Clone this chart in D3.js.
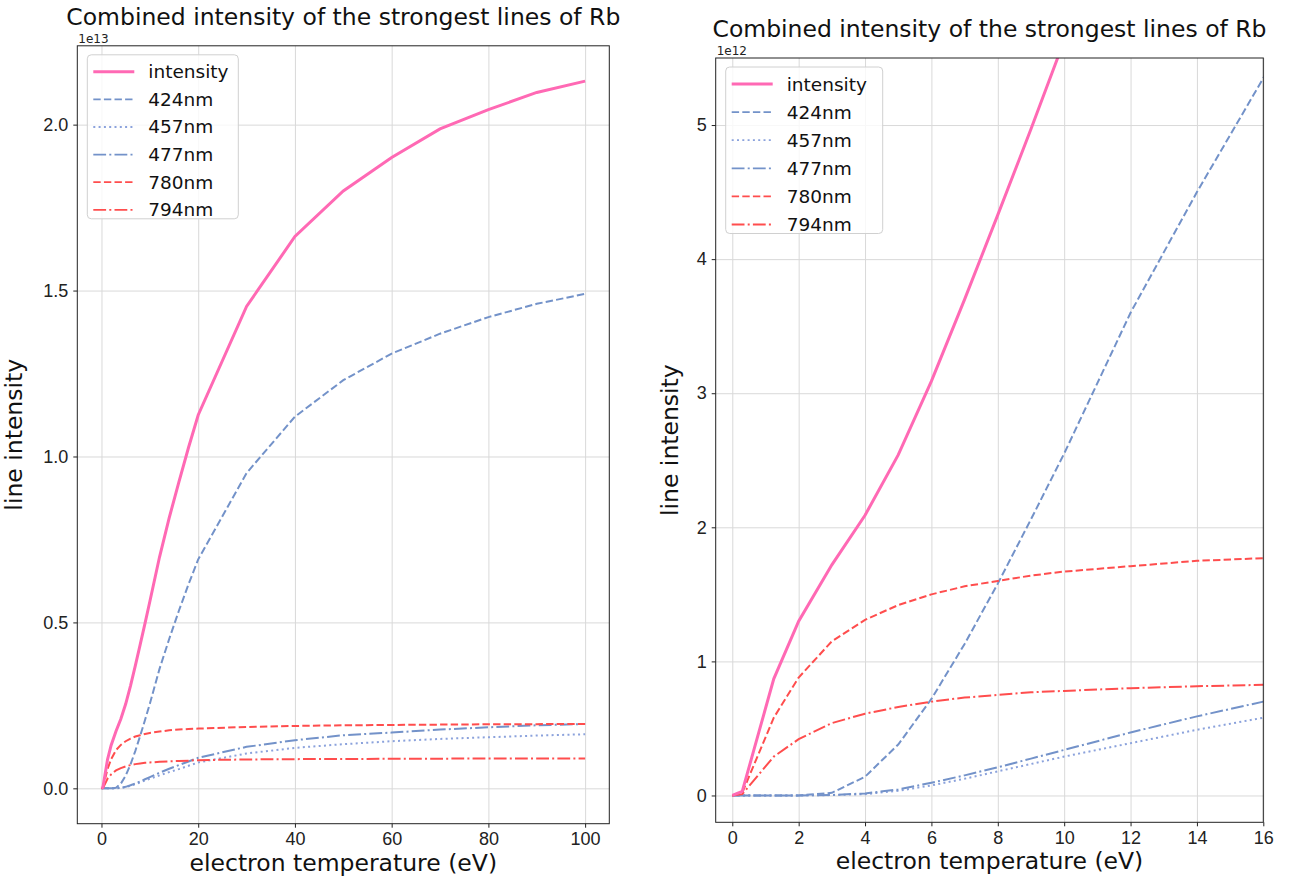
<!DOCTYPE html>
<html>
<head>
<meta charset="utf-8">
<script src="https://cdnjs.cloudflare.com/ajax/libs/d3/7.8.5/d3.min.js"></script>
<style>
  body { margin: 0; background: #fff; }
  svg { font-family: "DejaVu Sans", sans-serif; }
  .axis path, .axis line { stroke: #222; }
  .axis text { font-size: 18px; fill: #222; }
  .grid line { stroke: #d9d9d9; stroke-width: 1; }
  .grid path { display: none; }
</style>
</head>
<body>
<div id="chart"></div>
<script>
// electron temperature (eV)
var temps = [0, 0.3, 1.25, 2, 3, 4, 5, 6, 7, 8, 9, 10, 12, 14, 16, 18, 20, 30, 40, 50, 60, 70, 80, 90, 100];

// line intensities, in units of 1e12
var intensity = [0, 0.03, 0.87, 1.30, 1.72, 2.09, 2.54, 3.09, 3.70, 4.33, 4.97, 5.63, 6.97, 8.15, 9.23, 10.27, 11.25, 14.52, 16.63, 18.00, 19.01, 19.87, 20.45, 20.97, 21.31];
var nm424 = [0, 0, 0, 0, 0.02, 0.14, 0.38, 0.72, 1.13, 1.58, 2.06, 2.55, 3.6, 4.5, 5.35, 6.15, 6.9, 9.5, 11.2, 12.3, 13.1, 13.7, 14.2, 14.6, 14.9];
var nm457 = [0, 0, 0, 0, 0.003, 0.01, 0.035, 0.075, 0.125, 0.18, 0.235, 0.29, 0.39, 0.49, 0.58, 0.68, 0.78, 1.05, 1.22, 1.33, 1.42, 1.49, 1.54, 1.59, 1.63];
var nm477 = [0, 0, 0, 0, 0.004, 0.015, 0.045, 0.095, 0.15, 0.21, 0.275, 0.34, 0.47, 0.59, 0.70, 0.81, 0.92, 1.25, 1.45, 1.6, 1.68, 1.77, 1.84, 1.9, 1.94];
var nm780 = [0, 0.02, 0.58, 0.88, 1.15, 1.31, 1.42, 1.50, 1.56, 1.60, 1.64, 1.67, 1.71, 1.75, 1.77, 1.79, 1.80, 1.85, 1.88, 1.90, 1.91, 1.92, 1.93, 1.935, 1.94];
var nm794 = [0, 0.01, 0.29, 0.42, 0.54, 0.61, 0.66, 0.70, 0.73, 0.75, 0.77, 0.78, 0.80, 0.815, 0.825, 0.835, 0.85, 0.87, 0.88, 0.885, 0.89, 0.895, 0.897, 0.9, 0.9];

var seriesNames = ['intensity', '424nm', '457nm', '477nm', '780nm', '794nm'];

var leftXTicks = [0, 20, 40, 60, 80, 100];
var leftYTicks = [0, 5, 10, 15, 20];
var rightXTicks = [0, 2, 4, 6, 8, 10, 12, 14, 16];
var rightYTicks = [0, 1, 2, 3, 4, 5];

var title = 'Combined intensity of the strongest lines of Rb';

var series = [
    {name: seriesNames[0], values: intensity, color: '#ff69b4', width: 3, dash: null},
    {name: seriesNames[1], values: nm424, color: '#7392c9', width: 2, dash: '7.4,3.2'},
    {name: seriesNames[2], values: nm457, color: '#8ba2dc', width: 2, dash: '2,3.3'},
    {name: seriesNames[3], values: nm477, color: '#7392c9', width: 2, dash: '12.8,3.2,2,3.2'},
    {name: seriesNames[4], values: nm780, color: '#ff4d4d', width: 2, dash: '7.4,3.2'},
    {name: seriesNames[5], values: nm794, color: '#ff4d4d', width: 2, dash: '12.8,3.2,2,3.2'}
];

var svg = d3.select('#chart')
    .append('svg')
    .attr('width', 1289)
    .attr('height', 882);

function drawPanel(p) {
    var w = p.right - p.left;
    var h = p.bottom - p.top;

    var x = d3.scaleLinear().domain(p.xDomain).range([0, w]);
    var y = d3.scaleLinear().domain(p.yDomain).range([h, 0]);

    var g = svg.append('g')
        .attr('transform', 'translate(' + p.left + ',' + p.top + ')');

    g.append('clipPath')
        .attr('id', p.id + '-clip')
        .append('rect')
        .attr('width', w)
        .attr('height', h);

    // grid
    g.append('g')
        .attr('class', 'grid')
        .attr('transform', 'translate(0,' + h + ')')
        .call(d3.axisBottom(x).tickValues(p.xTicks).tickSize(-h).tickFormat(''));
    g.append('g')
        .attr('class', 'grid')
        .call(d3.axisLeft(y).tickValues(p.yTicks).tickSize(-w).tickFormat(''));

    var line = d3.line()
        .x(function(d, i) { return x(temps[i]); })
        .y(function(d) { return y(d); });

    var lines = g.append('g').attr('clip-path', 'url(#' + p.id + '-clip)');
    // combined line goes last so it sits on top
    var order = series.slice(1).concat([series[0]]);
    for (var s of order) {
        lines.append('path')
            .attr('d', line(s.values))
            .attr('fill', 'none')
            .attr('stroke', s.color)
            .attr('stroke-width', s.width)
            .attr('stroke-dasharray', s.dash);
    }

    // axes
    g.append('g')
        .attr('class', 'axis x')
        .attr('transform', 'translate(0,' + h + ')')
        .call(d3.axisBottom(x).tickValues(p.xTicks).tickSize(4).tickPadding(5).tickFormat(p.xFormat))
        .select('.domain').remove();
    g.append('g')
        .attr('class', 'axis y')
        .call(d3.axisLeft(y).tickValues(p.yTicks).tickSize(4).tickPadding(5).tickFormat(p.yFormat))
        .select('.domain').remove();

    g.append('rect')
        .attr('width', w)
        .attr('height', h)
        .attr('fill', 'none')
        .attr('stroke', '#222')
        .attr('stroke-width', 1);

    g.append('text')
        .attr('x', 1)
        .attr('y', -3)
        .style('font-size', '12px')
        .attr('fill', '#222')
        .text(p.offset);

    g.append('text')
        .attr('x', w / 2)
        .attr('y', -21)
        .attr('text-anchor', 'middle')
        .style('font-size', '23.5px')
        .attr('fill', '#111')
        .text(title);

    g.append('text')
        .attr('x', w / 2)
        .attr('y', h + 47)
        .attr('text-anchor', 'middle')
        .style('font-size', '23.5px')
        .attr('fill', '#111')
        .text('electron temperature (eV)');

    g.append('text')
        .attr('transform', 'translate(' + p.yLabelX + ',' + (h / 2) + ') rotate(-90)')
        .attr('text-anchor', 'middle')
        .style('font-size', '23.5px')
        .attr('fill', '#111')
        .text('line intensity');

    // legend
    var lg = g.append('g').attr('transform', 'translate(10,9)');
    lg.append('rect')
        .attr('width', p.legendW)
        .attr('height', 26 + p.rowH * 5)
        .attr('rx', 4)
        .attr('fill', 'rgba(255,255,255,0.8)')
        .attr('stroke', '#d0d0d0');
    series.forEach(function(s, i) {
        var yy = 17 + i * p.rowH;
        lg.append('line')
            .attr('x1', 6).attr('x2', 47)
            .attr('y1', yy).attr('y2', yy)
            .attr('stroke', s.color)
            .attr('stroke-width', s.width == 3 ? 3 : 1.8)
            .attr('stroke-dasharray', s.dash);
        lg.append('text')
            .attr('x', 61)
            .attr('y', yy + 6.5)
            .style('font-size', '18.5px')
            .attr('fill', '#111')
            .text(s.name);
    });
}

drawPanel({
    id: 'left', left: 77.3, right: 609.3, top: 45.8, bottom: 823.7,
    xDomain: [-5, 105], yDomain: [-1.0655, 22.3755],
    xTicks: leftXTicks, yTicks: leftYTicks,
    xFormat: d3.format('d'),
    yFormat: function(d) { return (d / 10).toFixed(1); },
    offset: '1e13', yLabelX: -55, legendW: 151, rowH: 27.6
});

drawPanel({
    id: 'right', left: 715.7, right: 1263.3, top: 58, bottom: 822.3,
    xDomain: [-0.5, 16], yDomain: [-0.2, 5.5],
    xTicks: rightXTicks, yTicks: rightYTicks,
    xFormat: d3.format('d'),
    yFormat: d3.format('d'),
    offset: '1e12', yLabelX: -38, legendW: 157, rowH: 28.1
});
</script>
</body>
</html>
